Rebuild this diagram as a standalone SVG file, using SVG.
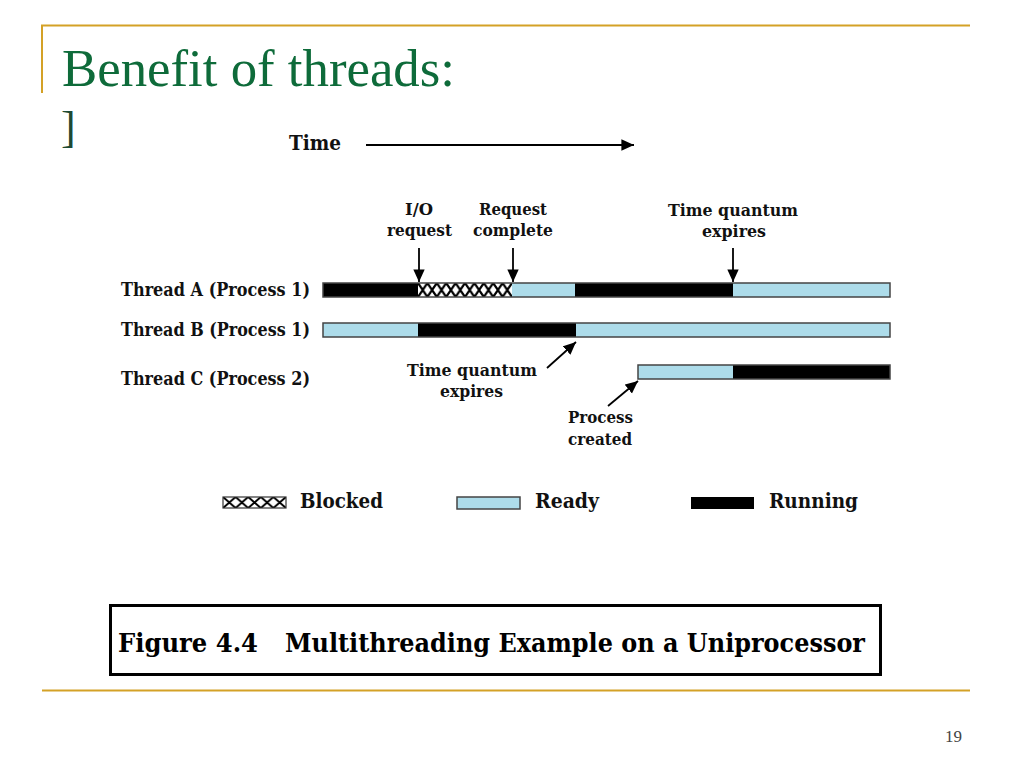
<svg xmlns="http://www.w3.org/2000/svg" width="1024" height="768" viewBox="0 0 1024 768">
<defs>
<style>
.gold{stroke:#D4A126;stroke-width:2;fill:none}
.title{font-family:"Liberation Serif","Times New Roman",serif;font-size:52px;fill:#0E6B3A}
.lbl{font-family:"DejaVu Serif","Liberation Serif",serif;font-weight:bold;font-size:17px;fill:#111}
.leg{font-family:"DejaVu Serif","Liberation Serif",serif;font-weight:bold;font-size:20px;fill:#111}
.cap{font-family:"DejaVu Serif","Liberation Serif",serif;font-weight:bold;font-size:26px;fill:#000}
.ready{fill:#ADDCEA}
.run{fill:#000}
.blk{fill:url(#hatch)}
.frame{fill:none;stroke:#444;stroke-width:1.5}
.conn{stroke:#000;stroke-width:1.8;fill:none}
</style>
<pattern id="hatch" patternUnits="userSpaceOnUse" width="9.4" height="14" x="418" y="283">
<rect width="9.4" height="14" fill="#fff"/>
<path d="M0,0 L9.4,14 M0,14 L9.4,0" stroke="#000" stroke-width="2.2"/>
</pattern>
<pattern id="hatch2" patternUnits="userSpaceOnUse" width="12.6" height="11" x="223" y="497">
<rect width="12.6" height="11" fill="#fff"/>
<path d="M0,0 L12.6,11 M0,11 L12.6,0" stroke="#000" stroke-width="2"/>
</pattern>
<marker id="ah" viewBox="0 0 10 10" refX="10" refY="5" markerWidth="7" markerHeight="7" markerUnits="strokeWidth" orient="auto">
<path d="M0,0.5 L10,5 L0,9.5 Z" fill="#000"/>
</marker>
</defs>
<rect width="1024" height="768" fill="#fff"/>

<g id="slide-frame">
<path class="gold" d="M42,93 L42,25.5 L970,25.5"/>
<line class="gold" x1="42" y1="690.5" x2="970" y2="690.5"/>
</g>

<g id="title">
<text class="title" x="62" y="86" textLength="393" lengthAdjust="spacingAndGlyphs">Benefit of threads:</text>
<text x="61" y="142" style="font-family:'Liberation Serif',serif;font-size:44px;fill:#1d4a33;font-weight:300">]</text>
</g>

<g id="time-axis">
<text class="lbl" x="289" y="150" style="font-size:20px" textLength="52" lengthAdjust="spacingAndGlyphs">Time</text>
</g>

<g id="thread-a">
<text class="lbl" x="121" y="296" style="font-size:18px" textLength="189" lengthAdjust="spacingAndGlyphs">Thread A (Process 1)</text>
<rect class="run" x="323" y="283" width="95" height="14"/>
<rect class="blk" x="418" y="283" width="94" height="14"/>
<rect class="ready" x="512" y="283" width="63" height="14"/>
<rect class="run" x="575" y="283" width="158" height="14"/>
<rect class="ready" x="733" y="283" width="157" height="14"/>
<rect class="frame" x="323" y="283" width="567" height="14"/>
</g>

<g id="thread-b">
<text class="lbl" x="121" y="336" style="font-size:18px" textLength="189" lengthAdjust="spacingAndGlyphs">Thread B (Process 1)</text>
<rect class="ready" x="323" y="323" width="95" height="14"/>
<rect class="run" x="418" y="323" width="158" height="14"/>
<rect class="ready" x="576" y="323" width="314" height="14"/>
<rect class="frame" x="323" y="323" width="567" height="14"/>
</g>

<g id="thread-c">
<text class="lbl" x="121" y="385" style="font-size:18px" textLength="189" lengthAdjust="spacingAndGlyphs">Thread C (Process 2)</text>
<rect class="ready" x="638" y="365" width="95" height="14"/>
<rect class="run" x="733" y="365" width="157" height="14"/>
<rect class="frame" x="638" y="365" width="252" height="14"/>
</g>

<g id="label-io-request">
<text class="lbl" x="419" y="215" text-anchor="middle" textLength="28" lengthAdjust="spacingAndGlyphs">I/O</text>
<text class="lbl" x="419.5" y="236" text-anchor="middle" textLength="65" lengthAdjust="spacingAndGlyphs">request</text>
</g>

<g id="label-request-complete">
<text class="lbl" x="513" y="215" text-anchor="middle" textLength="68" lengthAdjust="spacingAndGlyphs">Request</text>
<text class="lbl" x="513" y="236" text-anchor="middle" textLength="80" lengthAdjust="spacingAndGlyphs">complete</text>
</g>

<g id="label-quantum-a">
<text class="lbl" x="733" y="216" text-anchor="middle" textLength="130" lengthAdjust="spacingAndGlyphs">Time quantum</text>
<text class="lbl" x="734" y="237" text-anchor="middle" textLength="64" lengthAdjust="spacingAndGlyphs">expires</text>
</g>

<g id="label-quantum-b">
<text class="lbl" x="472" y="376" text-anchor="middle" textLength="130" lengthAdjust="spacingAndGlyphs">Time quantum</text>
<text class="lbl" x="471.5" y="397" text-anchor="middle" textLength="63" lengthAdjust="spacingAndGlyphs">expires</text>
</g>

<g id="label-process-created">
<text class="lbl" x="600.5" y="423" text-anchor="middle" textLength="65" lengthAdjust="spacingAndGlyphs">Process</text>
<text class="lbl" x="600" y="445" text-anchor="middle" textLength="64" lengthAdjust="spacingAndGlyphs">created</text>
</g>

<g id="connectors">
<line class="conn" x1="366" y1="145" x2="634" y2="145" marker-end="url(#ah)"/>
<line class="conn" x1="419" y1="248" x2="419" y2="282" marker-end="url(#ah)"/>
<line class="conn" x1="513" y1="248" x2="513" y2="282" marker-end="url(#ah)"/>
<line class="conn" x1="733" y1="248" x2="733" y2="282" marker-end="url(#ah)"/>
<line class="conn" x1="547" y1="368" x2="576" y2="342" marker-end="url(#ah)"/>
<line class="conn" x1="608" y1="406" x2="638" y2="381" marker-end="url(#ah)"/>
</g>

<g id="legend">
<rect x="223" y="497" width="63" height="11" fill="url(#hatch2)" stroke="#333" stroke-width="1.2"/>
<text class="leg" x="300" y="508" textLength="83" lengthAdjust="spacingAndGlyphs">Blocked</text>
<rect class="ready" x="457" y="497" width="63" height="12" stroke="#444" stroke-width="1.5"/>
<text class="leg" x="535" y="508" textLength="64" lengthAdjust="spacingAndGlyphs">Ready</text>
<rect class="run" x="691" y="497" width="63" height="12"/>
<text class="leg" x="769" y="508" textLength="89" lengthAdjust="spacingAndGlyphs">Running</text>
</g>

<g id="caption">
<rect x="110.5" y="605.5" width="770" height="69" fill="none" stroke="#000" stroke-width="3"/>
<text class="cap" x="118" y="652" textLength="140" lengthAdjust="spacingAndGlyphs">Figure 4.4</text>
<text class="cap" x="285" y="652" textLength="580" lengthAdjust="spacingAndGlyphs">Multithreading Example on a Uniprocessor</text>
</g>

<g id="page-number">
<text x="945" y="742" style="font-family:'Liberation Serif',serif;font-size:17px;fill:#444">19</text>
</g>
</svg>
